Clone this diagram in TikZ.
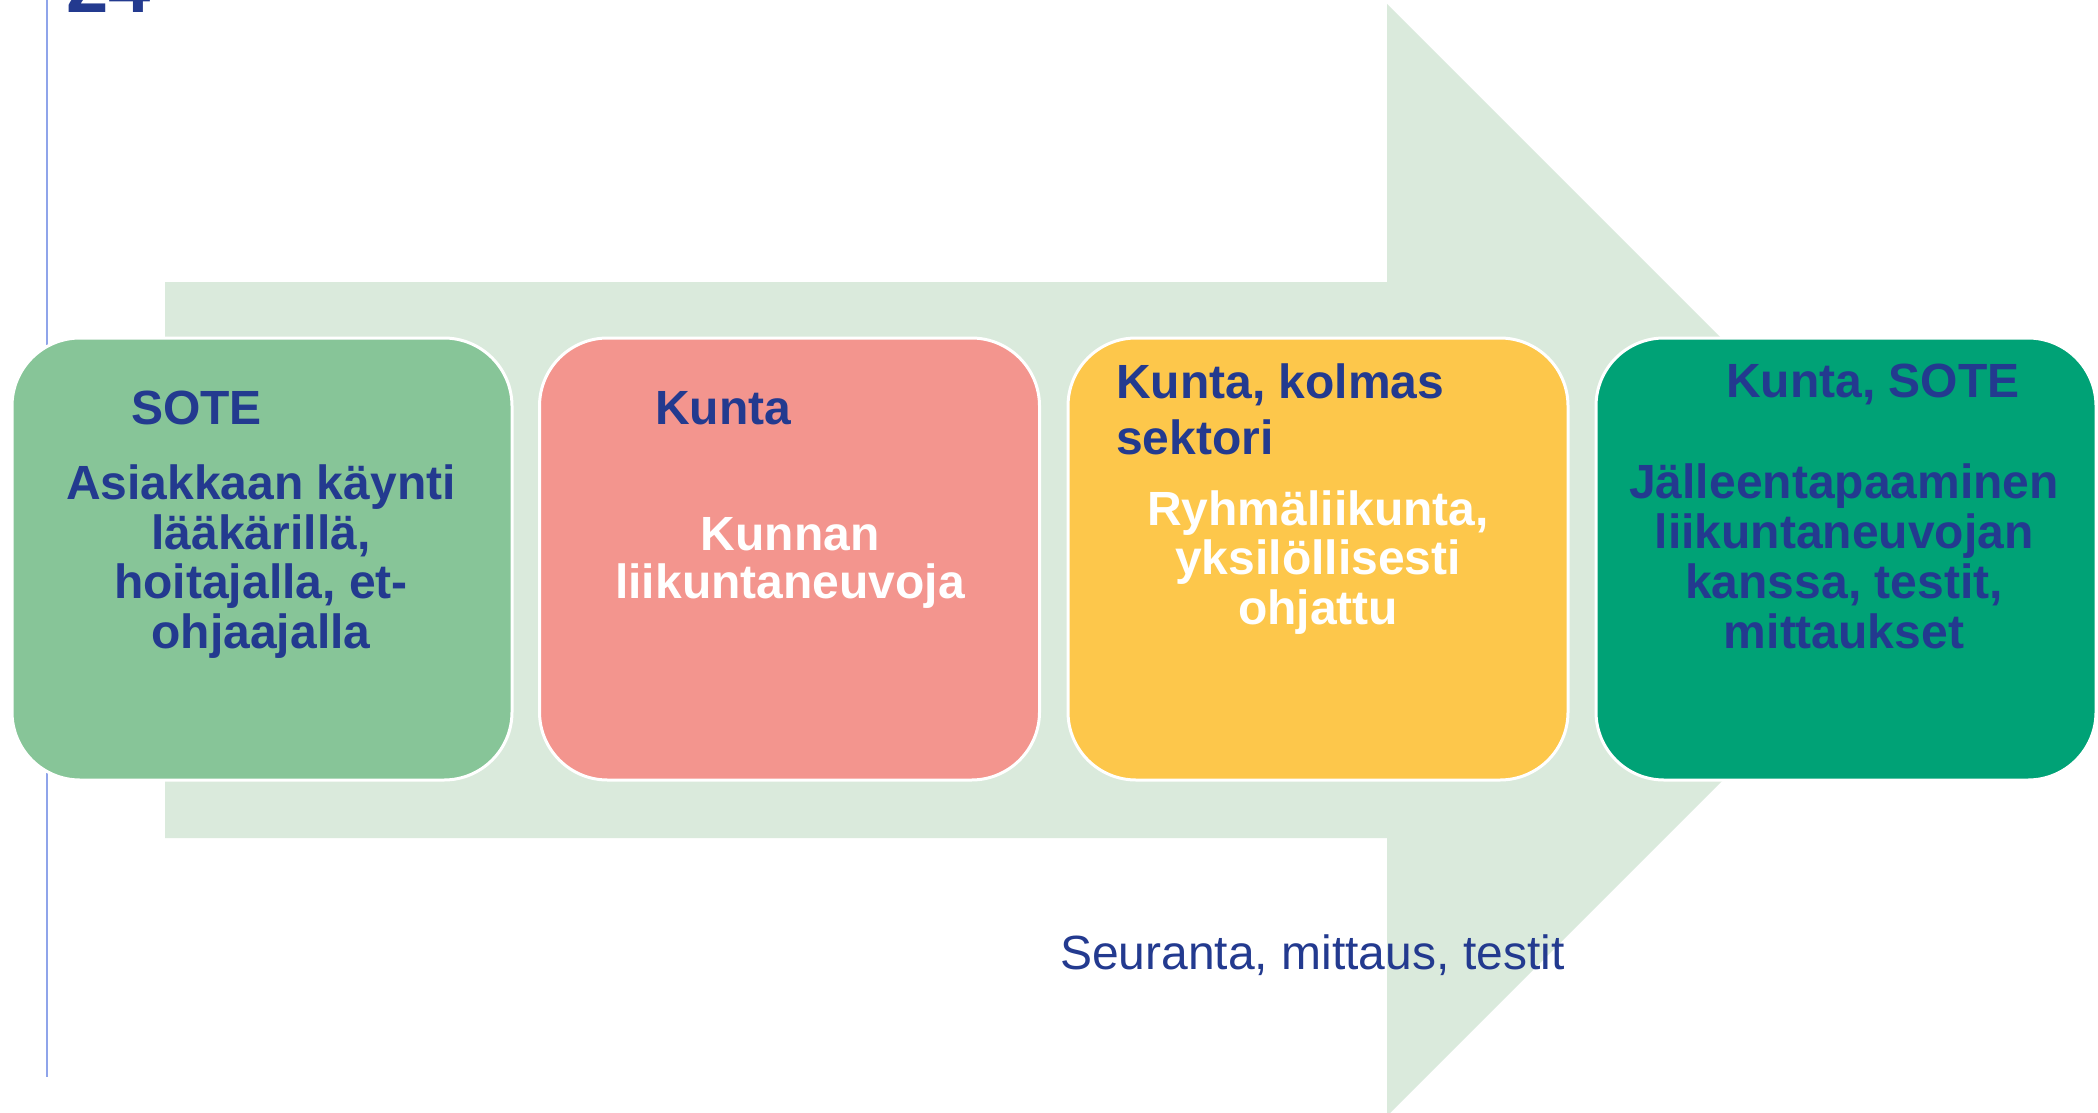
\documentclass[tikz,border=0pt]{standalone}
\usepackage{fontspec}
\setmainfont{Liberation Sans}
\definecolor{textblue}{HTML}{233A8F}
\definecolor{boxA}{HTML}{87C598}
\definecolor{boxB}{HTML}{F3958E}
\definecolor{boxC}{HTML}{FDC74B}
\definecolor{boxD}{HTML}{00A276}
\definecolor{arrowfill}{HTML}{DAEADC}
\definecolor{vline}{HTML}{8FA4EA}
\begin{document}
\begin{tikzpicture}[x=1pt,y=-1pt,
  stage/.style={draw=white, line width=3pt, rounded corners=68pt,
    minimum width=500pt, minimum height=442pt, inner sep=0pt},
  head/.style={anchor=base west, inner sep=0pt, text=textblue,
    font=\fontsize{48}{56}\selectfont\bfseries, align=left},
  body/.style={anchor=base, inner sep=0pt, align=center,
    font=\fontsize{48}{49.5}\selectfont\bfseries}]
\clip (0,0) rectangle (2098,1113);
\useasboundingbox (0,0) rectangle (2098,1113);
\fill[white] (0,0) rectangle (2098,1113);
% big arrow
\fill[arrowfill] (165,282) -- (1387,282) -- (1387,4) -- (1943,560)
  -- (1387,1116) -- (1387,838) -- (165,838) -- cycle;
% left rule and page number
\draw[vline, line width=2pt] (47,0) -- (47,1077);
\node[anchor=base west, inner sep=0pt, text=textblue,
  font=\fontsize{76}{80}\selectfont\bfseries] (num) at (66,13) {24};
% stages
\node[stage, fill=boxA] (s1) at (262,559) {};
\node[stage, fill=boxB] (s2) at (789.5,559) {};
\node[stage, fill=boxC] (s3) at (1318,559) {};
\node[stage, fill=boxD] (s4) at (1846,559) {};
% headers (base anchor = last line)
\node[head] (h1) at (131,424) {SOTE};
\node[head] (h2) at (655,424) {Kunta};
\node[head] (h3) at (1116,454) {Kunta, kolmas\\sektori};
\node[head] (h4) at (1726,397) {Kunta, SOTE};
% bodies (base anchor = last line)
\node[body, text=textblue] (b1) at (261,648)
  {Asiakkaan käynti\\lääkärillä,\\hoitajalla, et-\\ohjaajalla};
\node[body, text=white, font=\fontsize{48}{48}\selectfont\bfseries] (b2) at (790,598)
  {Kunnan\\liikuntaneuvoja};
\node[body, text=white] (b3) at (1318,624)
  {Ryhmäliikunta,\\yksilöllisesti\\ohjattu};
\node[body, text=textblue, font=\fontsize{48}{50}\selectfont\bfseries] (b4) at (1844,648)
  {Jälleentapaaminen\\liikuntaneuvojan\\kanssa, testit,\\mittaukset};
% caption
\node[anchor=base west, inner sep=0pt, text=textblue,
  font=\fontsize{48}{52}\selectfont] (cap) at (1060,969) {Seuranta, mittaus, testit};
\end{tikzpicture}
\end{document}
